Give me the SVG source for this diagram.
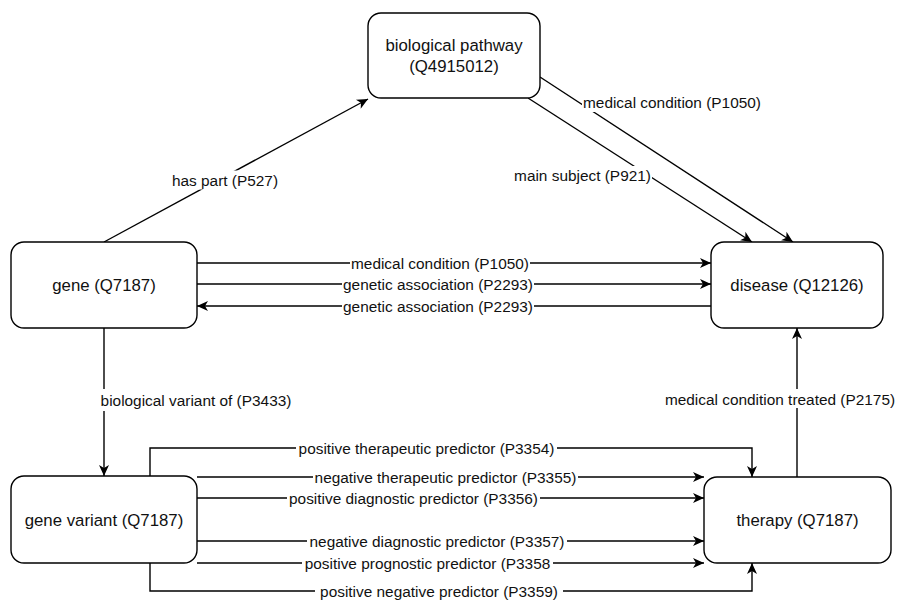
<svg xmlns="http://www.w3.org/2000/svg" width="912" height="600" viewBox="0 0 912 600">
  <style>
    .node rect { fill: #ffffff; stroke: #000000; stroke-width: 1.4; }
    .node text { font-family: "Liberation Sans", Arial, Helvetica, sans-serif; font-size: 16.8px; fill: #111111; text-anchor: middle; dominant-baseline: central; }
    .edge { fill: none; stroke: #000000; stroke-width: 1.4; }
    .arrow { marker-end: url(#head); }
    .lbl-bg { fill: #ffffff; stroke: none; }
    .lbl { font-family: "Liberation Sans", Arial, Helvetica, sans-serif; font-size: 15.4px; fill: #111111; text-anchor: middle; dominant-baseline: central; }
  </style>
  <defs>
    <marker id="head" markerUnits="userSpaceOnUse" markerWidth="12" markerHeight="10" refX="11" refY="5" orient="auto" overflow="visible">
      <path d="M0,0 L11,5 L0,10 L3,5 Z" fill="#000000"/>
    </marker>
  </defs>
  <rect x="0" y="0" width="912" height="600" fill="#ffffff"/>

  <!-- connectors -->
  <g id="connectors">
    <!-- gene -> biological pathway -->
    <path class="edge arrow" d="M104,242 L368,99"/>
    <!-- biological pathway -> disease -->
    <path class="edge arrow" d="M528,98 L752,242"/>
    <path class="edge arrow" d="M540,77 L793,242"/>
    <!-- gene <-> disease -->
    <path class="edge arrow" d="M197,263 H711"/>
    <path class="edge arrow" d="M197,284 H711"/>
    <path class="edge arrow" d="M711,306 H197"/>
    <!-- gene -> gene variant -->
    <path class="edge arrow" d="M104,328 V476"/>
    <!-- therapy -> disease -->
    <path class="edge arrow" d="M797,477 V328"/>
    <!-- gene variant -> therapy -->
    <path class="edge arrow" d="M150,476 V448 H752 V477"/>
    <path class="edge arrow" d="M197,477 H704"/>
    <path class="edge arrow" d="M197,498 H704"/>
    <path class="edge arrow" d="M197,541 H704"/>
    <path class="edge arrow" d="M197,563 H704"/>
    <path class="edge arrow" d="M150,563 V591 H752 V563"/>

    <!-- edge labels -->
    <g id="edge-labels">
      <rect class="lbl-bg" x="171" y="170.5" width="108" height="19"/>
      <text class="lbl" x="225" y="180">has part (P527)</text>

      <rect class="lbl-bg" x="582" y="93" width="180" height="19"/>
      <text class="lbl" x="672" y="102">medical condition (P1050)</text>

      <rect class="lbl-bg" x="513" y="166" width="139" height="19"/>
      <text class="lbl" x="582.5" y="175">main subject (P921)</text>

      <rect class="lbl-bg" x="350" y="254" width="180" height="18"/>
      <text class="lbl" x="440" y="263">medical condition (P1050)</text>

      <rect class="lbl-bg" x="342" y="275" width="192" height="18"/>
      <text class="lbl" x="438" y="284">genetic association (P2293)</text>

      <rect class="lbl-bg" x="342" y="297" width="192" height="18"/>
      <text class="lbl" x="438" y="306">genetic association (P2293)</text>

      <rect class="lbl-bg" x="99" y="389" width="195" height="22"/>
      <text class="lbl" x="196" y="400">biological variant of (P3433)</text>

      <rect class="lbl-bg" x="664" y="389" width="232" height="19"/>
      <text class="lbl" x="780" y="399">medical condition treated (P2175)</text>

      <rect class="lbl-bg" x="296" y="439" width="261" height="18"/>
      <text class="lbl" x="426.5" y="448">positive therapeutic predictor (P3354)</text>

      <rect class="lbl-bg" x="313" y="468" width="265" height="18"/>
      <text class="lbl" x="445.5" y="477">negative therapeutic predictor (P3355)</text>

      <rect class="lbl-bg" x="287" y="489" width="253" height="18"/>
      <text class="lbl" x="413.5" y="498">positive diagnostic predictor (P3356)</text>

      <rect class="lbl-bg" x="307" y="532" width="260" height="18"/>
      <text class="lbl" x="437" y="541">negative diagnostic predictor (P3357)</text>

      <rect class="lbl-bg" x="302" y="554" width="251" height="18"/>
      <text class="lbl" x="427.5" y="563">positive prognostic predictor (P3358</text>

      <rect class="lbl-bg" x="315" y="582" width="248" height="18"/>
      <text class="lbl" x="439" y="591">positive negative predictor (P3359)</text>
    </g>
  </g>

  <!-- nodes -->
  <g id="biological-pathway" class="node">
    <rect x="368" y="13" width="172" height="85" rx="13" ry="13"/>
    <text x="454" y="45">biological pathway</text>
    <text x="454" y="66">(Q4915012)</text>
  </g>
  <g id="gene" class="node">
    <rect x="11" y="242" width="186" height="86" rx="13" ry="13"/>
    <text x="104" y="285">gene (Q7187)</text>
  </g>
  <g id="disease" class="node">
    <rect x="711" y="242" width="172" height="86" rx="13" ry="13"/>
    <text x="797" y="285">disease (Q12126)</text>
  </g>
  <g id="gene-variant" class="node">
    <rect x="11" y="476" width="186" height="87" rx="13" ry="13"/>
    <text x="104" y="520">gene variant (Q7187)</text>
  </g>
  <g id="therapy" class="node">
    <rect x="704" y="477" width="187" height="86" rx="13" ry="13"/>
    <text x="797.5" y="520">therapy (Q7187)</text>
  </g>
</svg>
